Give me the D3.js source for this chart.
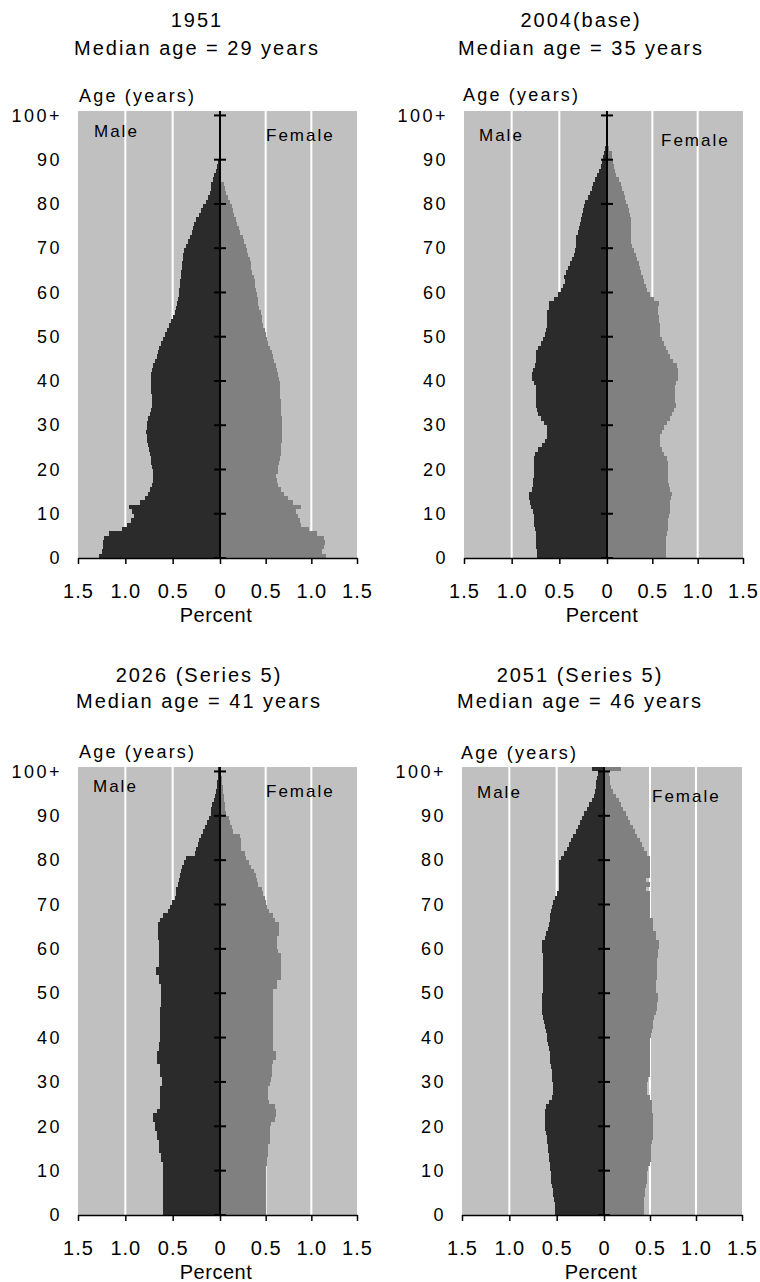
<!DOCTYPE html>
<html>
<head>
<meta charset="utf-8">
<script src="https://cdn.jsdelivr.net/npm/d3@7"></script>
<style>
  body { margin: 0; background: #fff; }
  svg text { font-family: "Liberation Sans", Arial, sans-serif; fill: #000; }
</style>
</head>
<body>
<div id="chart"></div>
<script>
// Population by single year of age, percent of total population
const ages = d3.range(0, 101);
const ageTicks = d3.range(0, 101, 10);
const pctTicks = [-1.5, -1, -0.5, 0, 0.5, 1, 1.5];
const gridValues = [-1, -0.5, 0.5, 1];

const titles = ["1951", "2004(base)", "2026 (Series 5)", "2051 (Series 5)"];
const medianAges = [29, 35, 41, 46];

const male1951 = [
  1.28,1.25,1.24,1.24,1.23,1.17,1.03,0.98,0.94,0.91,
  0.93,0.96,0.84,0.79,0.76,0.74,0.72,0.71,0.71,0.71,
  0.72,0.73,0.73,0.74,0.75,0.76,0.77,0.77,0.78,0.77,
  0.77,0.76,0.74,0.73,0.72,0.72,0.72,0.73,0.73,0.73,
  0.73,0.73,0.72,0.71,0.69,0.67,0.65,0.64,0.62,0.60,
  0.58,0.56,0.54,0.52,0.50,0.48,0.46,0.45,0.44,0.43,
  0.43,0.42,0.42,0.41,0.41,0.40,0.40,0.39,0.39,0.38,
  0.36,0.34,0.32,0.30,0.29,0.27,0.25,0.22,0.20,0.18,
  0.15,0.13,0.11,0.10,0.09,0.07,0.06,0.045,0.03,0.02,
  0.015,0.01,0.008,0.006,0.004,0.003,0.002,0.001,0.001,0.001,
  0.001
];
const female1951 = [
  1.16,1.12,1.14,1.15,1.14,1.06,0.97,0.89,0.88,0.85,
  0.83,0.89,0.80,0.74,0.70,0.67,0.64,0.62,0.61,0.63,
  0.64,0.65,0.66,0.67,0.67,0.67,0.68,0.68,0.68,0.68,
  0.68,0.68,0.67,0.67,0.67,0.67,0.66,0.66,0.66,0.66,
  0.65,0.63,0.62,0.61,0.59,0.58,0.57,0.55,0.53,0.51,
  0.50,0.49,0.47,0.46,0.46,0.45,0.43,0.42,0.42,0.41,
  0.39,0.38,0.38,0.37,0.35,0.34,0.34,0.33,0.31,0.30,
  0.28,0.26,0.25,0.22,0.21,0.19,0.17,0.15,0.14,0.13,
  0.11,0.09,0.07,0.05,0.04,0.005,0.004,0.003,0.002,0.002,
  0.001,0.001,0.001,0.001,0.001,0.001,0.001,0.001,0.001,0.001,
  0.001
];

const male2004 = [
  0.73,0.73,0.74,0.74,0.75,0.75,0.76,0.77,0.77,0.77,
  0.78,0.80,0.81,0.82,0.82,0.79,0.78,0.78,0.77,0.77,
  0.77,0.77,0.77,0.76,0.72,0.68,0.65,0.63,0.63,0.63,
  0.66,0.69,0.72,0.73,0.74,0.74,0.74,0.74,0.75,0.77,
  0.79,0.79,0.78,0.76,0.75,0.75,0.74,0.72,0.69,0.67,
  0.65,0.64,0.63,0.63,0.63,0.63,0.61,0.61,0.56,0.51,
  0.48,0.46,0.44,0.45,0.43,0.41,0.39,0.37,0.35,0.34,
  0.33,0.33,0.32,0.30,0.29,0.28,0.27,0.26,0.25,0.24,
  0.23,0.20,0.18,0.16,0.15,0.13,0.11,0.08,0.06,0.05,
  0.04,0.03,0.02,0.015,0.01,0.008,0.005,0.004,0.003,0.002,
  0.002
];
const female2004 = [
  0.65,0.65,0.65,0.65,0.65,0.66,0.67,0.67,0.67,0.68,
  0.69,0.69,0.70,0.71,0.72,0.69,0.68,0.67,0.67,0.67,
  0.67,0.67,0.66,0.63,0.61,0.59,0.58,0.58,0.61,0.63,
  0.66,0.69,0.72,0.74,0.76,0.75,0.75,0.75,0.75,0.76,
  0.78,0.78,0.78,0.77,0.73,0.70,0.67,0.65,0.63,0.61,
  0.59,0.58,0.58,0.57,0.57,0.56,0.56,0.57,0.52,0.47,
  0.44,0.43,0.41,0.40,0.38,0.36,0.35,0.33,0.32,0.30,
  0.28,0.27,0.27,0.27,0.27,0.26,0.26,0.25,0.24,0.23,
  0.21,0.20,0.19,0.17,0.15,0.13,0.10,0.09,0.08,0.07,
  0.06,0.05,0.02,0.015,0.01,0.008,0.005,0.004,0.003,0.002,
  0.002
];

const male2026 = [
  0.60,0.60,0.60,0.60,0.60,0.60,0.60,0.60,0.60,0.60,
  0.60,0.60,0.62,0.62,0.645,0.645,0.645,0.67,0.67,0.69,
  0.69,0.71,0.71,0.67,0.63,0.63,0.63,0.63,0.63,0.61,
  0.61,0.63,0.63,0.63,0.67,0.67,0.67,0.645,0.645,0.63,
  0.63,0.63,0.63,0.63,0.63,0.63,0.63,0.62,0.62,0.62,
  0.62,0.62,0.64,0.64,0.68,0.68,0.645,0.645,0.645,0.645,
  0.645,0.645,0.66,0.66,0.66,0.66,0.63,0.60,0.55,0.53,
  0.51,0.48,0.46,0.46,0.44,0.43,0.42,0.41,0.40,0.38,
  0.36,0.26,0.25,0.235,0.225,0.20,0.18,0.16,0.14,0.12,
  0.10,0.09,0.08,0.065,0.05,0.04,0.035,0.03,0.025,0.02,
  0.02
];
const female2026 = [
  0.50,0.50,0.50,0.50,0.50,0.50,0.50,0.50,0.50,0.50,
  0.50,0.51,0.52,0.525,0.53,0.53,0.55,0.55,0.55,0.55,
  0.56,0.60,0.61,0.61,0.60,0.54,0.53,0.53,0.53,0.55,
  0.56,0.57,0.57,0.57,0.58,0.61,0.61,0.58,0.58,0.58,
  0.58,0.58,0.58,0.58,0.58,0.58,0.58,0.58,0.58,0.58,
  0.58,0.62,0.62,0.67,0.67,0.67,0.67,0.67,0.67,0.63,
  0.62,0.62,0.62,0.65,0.65,0.65,0.60,0.58,0.54,0.52,
  0.50,0.49,0.47,0.46,0.42,0.40,0.39,0.37,0.34,0.32,
  0.29,0.27,0.23,0.225,0.235,0.22,0.14,0.13,0.11,0.10,
  0.07,0.06,0.06,0.045,0.04,0.035,0.03,0.025,0.02,0.015,
  0.01
];

const male2051 = [
  0.52,0.52,0.52,0.53,0.54,0.54,0.55,0.56,0.56,0.56,
  0.57,0.57,0.58,0.58,0.59,0.59,0.60,0.60,0.61,0.62,
  0.62,0.62,0.62,0.62,0.61,0.58,0.55,0.54,0.54,0.54,
  0.55,0.55,0.55,0.56,0.57,0.57,0.57,0.58,0.59,0.60,
  0.60,0.61,0.62,0.63,0.64,0.65,0.66,0.66,0.66,0.65,
  0.645,0.645,0.645,0.645,0.645,0.645,0.645,0.645,0.645,0.65,
  0.65,0.65,0.62,0.61,0.59,0.58,0.57,0.57,0.56,0.55,
  0.54,0.52,0.50,0.48,0.475,0.475,0.475,0.475,0.475,0.475,
  0.45,0.42,0.39,0.37,0.35,0.33,0.30,0.27,0.25,0.23,
  0.21,0.18,0.16,0.13,0.11,0.10,0.08,0.08,0.07,0.06,
  0.13
];
const female2051 = [
  0.44,0.44,0.44,0.44,0.45,0.45,0.46,0.47,0.47,0.47,
  0.48,0.50,0.51,0.51,0.51,0.51,0.52,0.53,0.53,0.53,
  0.53,0.53,0.53,0.52,0.52,0.52,0.50,0.47,0.47,0.47,
  0.48,0.50,0.50,0.50,0.50,0.50,0.50,0.50,0.50,0.50,
  0.51,0.52,0.53,0.53,0.54,0.57,0.58,0.58,0.59,0.59,
  0.57,0.565,0.57,0.58,0.58,0.58,0.58,0.58,0.59,0.59,
  0.60,0.60,0.56,0.56,0.53,0.53,0.53,0.50,0.50,0.50,
  0.50,0.50,0.50,0.46,0.50,0.46,0.50,0.50,0.50,0.50,
  0.50,0.47,0.44,0.41,0.39,0.36,0.34,0.31,0.28,0.26,
  0.24,0.21,0.19,0.16,0.13,0.10,0.08,0.07,0.06,0.055,
  0.18
];

const maleSeries = [male1951, male2004, male2026, male2051];
const femaleSeries = [female1951, female2004, female2026, female2051];

// Layout of the four panels (pixels)
const layout = [
  { left: 78,  center: 220, right: 357, top: 111, bottom: 558,  titleX: 197, title1Y: 27,  title2Y: 55,
    ageX: 79,  ageY: 102, maleX: 94,  maleY: 137, femaleX: 266, femaleY: 141, percentX: 216 },
  { left: 464, center: 607, right: 743, top: 111, bottom: 558,  titleX: 581, title1Y: 27,  title2Y: 55,
    ageX: 463, ageY: 101, maleX: 479, maleY: 141, femaleX: 661, femaleY: 146, percentX: 602 },
  { left: 78,  center: 220, right: 357, top: 767, bottom: 1215, titleX: 199, title1Y: 682, title2Y: 708,
    ageX: 79,  ageY: 758, maleX: 93,  maleY: 792, femaleX: 266, femaleY: 797, percentX: 216 },
  { left: 462, center: 604, right: 742, top: 767, bottom: 1215, titleX: 580, title1Y: 682, title2Y: 708,
    ageX: 461, ageY: 759, maleX: 477, maleY: 798, femaleX: 652, femaleY: 802, percentX: 601 }
];

const svg = d3.select("#chart")
  .append("svg")
  .attr("width", 760)
  .attr("height", 1282);

layout.forEach(function (p, i) {
  const x = d3.scaleLinear().domain([-1.5, 0, 1.5]).range([p.left, p.center, p.right]);
  const y = d3.scaleLinear().domain([0, 101]).range([p.bottom, p.top]);
  const g = svg.append("g");

  // Titles
  g.append("text")
    .attr("x", p.titleX).attr("y", p.title1Y)
    .attr("text-anchor", "middle")
    .style("font-size", "20px").style("letter-spacing", "2px")
    .text(titles[i]);
  g.append("text")
    .attr("x", p.titleX).attr("y", p.title2Y)
    .attr("text-anchor", "middle")
    .style("font-size", "20px").style("letter-spacing", "2px")
    .text(`Median age = ${medianAges[i]} years`);

  g.append("text")
    .attr("x", p.ageX).attr("y", p.ageY)
    .style("font-size", "18px").style("letter-spacing", "2.2px")
    .text("Age (years)");

  // Plot background and white gridlines
  g.append("rect")
    .attr("x", x(-1.5)).attr("y", y(101))
    .attr("width", x(1.5) - x(-1.5))
    .attr("height", y(0) - y(101))
    .attr("fill", "#c0c0c0");

  g.selectAll(".grid")
    .data(gridValues)
    .join("line")
    .attr("x1", d => x(d)).attr("x2", d => x(d))
    .attr("y1", y(101)).attr("y2", y(0))
    .attr("stroke", "#fff")
    .attr("stroke-width", 2);

  // Male bars (left) and female bars (right)
  g.selectAll(".male")
    .data(ages)
    .join("rect")
    .attr("x", a => x(-maleSeries[i][a]))
    .attr("y", a => y(a + 1))
    .attr("width", a => x(0) - x(-maleSeries[i][a]))
    .attr("height", a => y(a) - y(a + 1))
    .attr("fill", "#2b2b2b")
    .attr("shape-rendering", "crispEdges");

  g.selectAll(".female")
    .data(ages)
    .join("rect")
    .attr("x", x(0))
    .attr("y", a => y(a + 1))
    .attr("width", a => x(femaleSeries[i][a]) - x(0))
    .attr("height", a => y(a) - y(a + 1))
    .attr("fill", "#808080")
    .attr("shape-rendering", "crispEdges");

  // Centre axis with age ticks
  g.append("line")
    .attr("x1", x(0)).attr("x2", x(0))
    .attr("y1", y(101)).attr("y2", y(0))
    .attr("stroke", "#000").attr("stroke-width", 2);

  g.selectAll(".ctick")
    .data(ageTicks)
    .join("line")
    .attr("x1", x(0) - 6).attr("x2", x(0) + 6)
    .attr("y1", d => y(d)).attr("y2", d => y(d))
    .attr("stroke", "#000").attr("stroke-width", 2);

  // Age labels on the left
  const yAxis = g.append("g")
    .attr("transform", `translate(${p.left},0)`)
    .call(d3.axisLeft(y).tickValues(ageTicks).tickSize(0).tickPadding(16)
      .tickFormat(d => d === 100 ? "100+" : d));
  yAxis.select(".domain").remove();
  yAxis.selectAll("text")
    .style("font-size", "18px").style("letter-spacing", "2.5px");

  // Percent axis at the bottom
  const xAxis = g.append("g")
    .attr("transform", `translate(0,${p.bottom})`)
    .call(d3.axisBottom(x).tickValues(pctTicks).tickSize(6).tickSizeOuter(0).tickPadding(20)
      .tickFormat(d => d === 0 ? "0" : Math.abs(d).toFixed(1)));
  xAxis.select(".domain").attr("stroke", "#000").attr("stroke-width", 1.5);
  xAxis.selectAll(".tick line").attr("stroke", "#000").attr("stroke-width", 1.5);
  xAxis.selectAll("text")
    .style("font-size", "20px").style("letter-spacing", "1px");

  g.append("text")
    .attr("x", p.percentX).attr("y", p.bottom + 64)
    .attr("text-anchor", "middle")
    .style("font-size", "20px").style("letter-spacing", "0.5px")
    .text("Percent");

  // Sex labels
  g.append("text")
    .attr("x", p.maleX).attr("y", p.maleY)
    .style("font-size", "17px").style("letter-spacing", "2px")
    .text("Male");
  g.append("text")
    .attr("x", p.femaleX).attr("y", p.femaleY)
    .style("font-size", "17px").style("letter-spacing", "2px")
    .text("Female");
});
</script>
</body>
</html>
